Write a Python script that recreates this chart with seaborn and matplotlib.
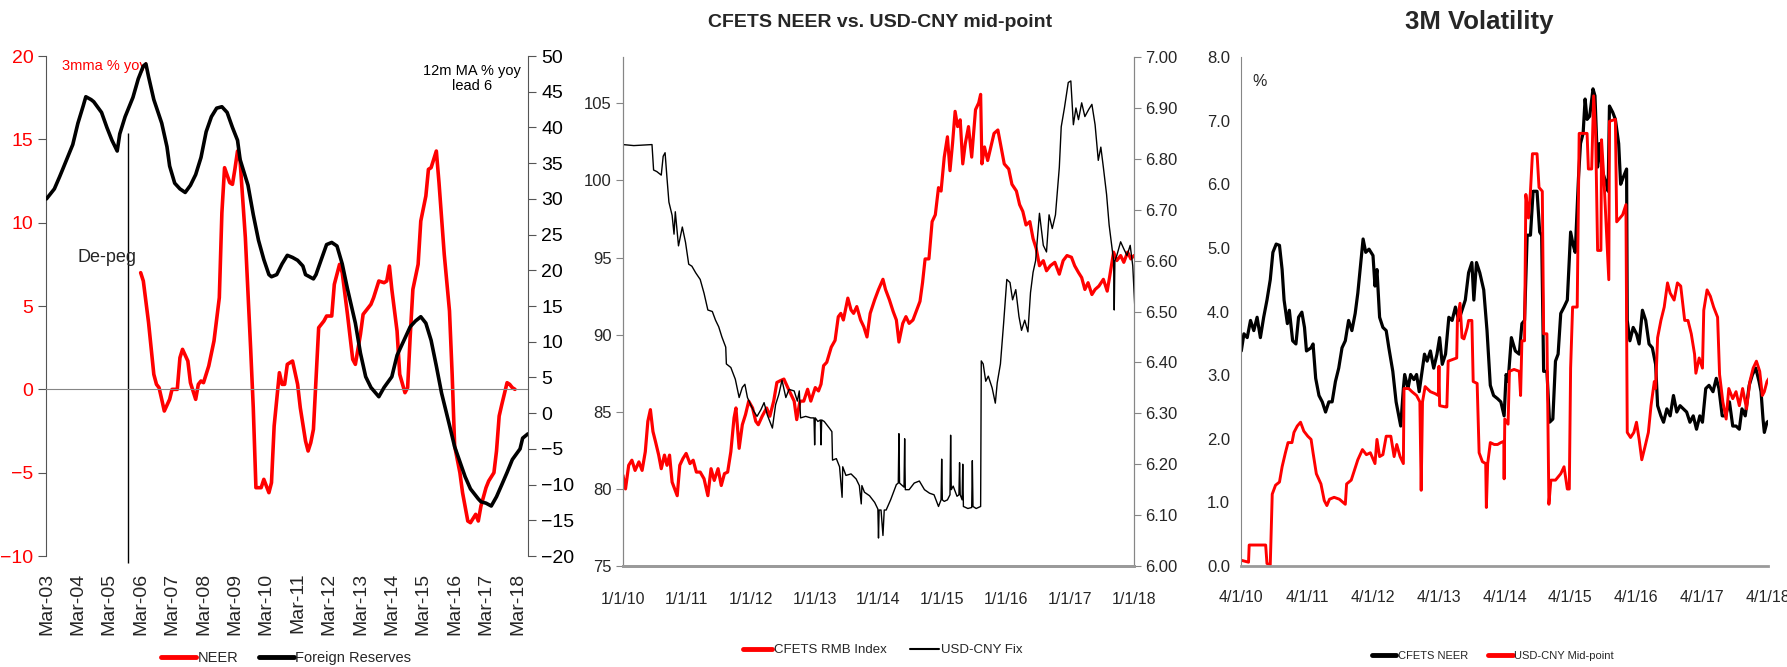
import numpy as np
import pandas as pd
import matplotlib
matplotlib.use("Agg")
import matplotlib.pyplot as plt
import matplotlib.dates as mdates
from matplotlib.lines import Line2D
from matplotlib.ticker import FixedLocator, FuncFormatter, FormatStrFormatter
from matplotlib import font_manager as fm
import seaborn as sns

sns.set_style("white")
_names = {f.name for f in fm.fontManager.ttflist}
ARIAL = "Liberation Sans" if "Liberation Sans" in _names else "DejaVu Sans"
plt.rcParams["font.family"] = [ARIAL, "DejaVu Sans"]

# ---------------- Panel 1 data: NEER (3mma % yoy) and reserves (12m MA % yoy, lead 6)
neer_dates = ["2006-03", "2006-04", "2006-06", "2006-08", "2006-09", "2006-10", "2006-11", "2006-12",
              "2007-02", "2007-03", "2007-05", "2007-06", "2007-07", "2007-09", "2007-10", "2007-12",
              "2008-01", "2008-02", "2008-03", "2008-05", "2008-07", "2008-09", "2008-10", "2008-11",
              "2009-01", "2009-02", "2009-03", "2009-04", "2009-05", "2009-07", "2009-09", "2009-10", "2009-11",
              "2010-01", "2010-02", "2010-04", "2010-05", "2010-06", "2010-08", "2010-09", "2010-10", "2010-11",
              "2011-01", "2011-03", "2011-04", "2011-06", "2011-07", "2011-08", "2011-09", "2011-10", "2011-11",
              "2012-01", "2012-02", "2012-04", "2012-05", "2012-07", "2012-08", "2012-10", "2012-12",
              "2013-01", "2013-03", "2013-04", "2013-07", "2013-08", "2013-10", "2013-12",
              "2014-01", "2014-02", "2014-03", "2014-05", "2014-06", "2014-08", "2014-09", "2014-10", "2014-11",
              "2015-01", "2015-02", "2015-04", "2015-05", "2015-06", "2015-08", "2015-09", "2015-11",
              "2016-01", "2016-02", "2016-03", "2016-05", "2016-06", "2016-08", "2016-09", "2016-11", "2016-12",
              "2017-01", "2017-03", "2017-04", "2017-06", "2017-07", "2017-08", "2017-09", "2017-11", "2017-12",
              "2018-01", "2018-02"]
neer_vals = [7.0, 6.5, 4.0, 0.9, 0.3, 0.1, -0.6, -1.3, -0.6, 0.0,
             0.0, 1.9, 2.4, 1.7, 0.4, -0.6, 0.3, 0.5, 0.4, 1.4,
             2.9, 5.5, 10.6, 13.3, 12.4, 12.3, 13.2, 14.3, 13.7, 9.1,
             2.4, -1.1, -5.9, -5.9, -5.4, -6.2, -5.6, -2.2, 1.0, 0.3,
             0.3, 1.5, 1.7, 0.3, -1.1, -3.1, -3.7, -3.2, -2.4, 0.6,
             3.7, 4.1, 4.4, 4.4, 6.3, 7.5, 7.0, 4.5, 1.8, 1.5,
             3.3, 4.5, 5.1, 5.5, 6.5, 6.4, 6.5, 7.4, 6.0, 3.5,
             0.9, -0.2, 0.1, 3.2, 6.0, 7.5, 10.1, 11.6, 13.2, 13.3,
             14.3, 12.4, 8.1, 4.7, 0.9, -3.4, -5.0, -6.2, -7.9, -8.0,
             -7.5, -7.9, -7.0, -5.9, -5.5, -5.0, -3.7, -1.6, -0.9, 0.4,
             0.3, 0.1, 0.0]

res_dates = ["2003-03", "2003-06", "2003-08", "2003-09", "2003-11", "2004-01", "2004-03", "2004-05", "2004-06",
             "2004-08", "2004-09", "2004-12", "2005-02", "2005-04", "2005-06", "2005-07", "2005-09", "2005-12",
             "2006-02", "2006-04", "2006-05", "2006-06", "2006-08", "2006-11", "2007-01", "2007-02", "2007-04",
             "2007-06", "2007-08", "2007-10", "2007-12", "2008-02", "2008-04", "2008-06", "2008-08", "2008-10",
             "2008-12", "2009-02", "2009-04", "2009-05", "2009-08", "2009-10", "2009-12", "2010-02", "2010-04",
             "2010-05", "2010-07", "2010-09", "2010-11", "2011-01", "2011-03", "2011-05", "2011-06", "2011-09",
             "2011-10", "2011-12", "2012-02", "2012-04", "2012-06", "2012-08", "2012-10", "2013-01", "2013-03",
             "2013-05", "2013-07", "2013-10", "2013-12", "2014-03", "2014-05", "2014-08", "2014-10", "2014-12",
             "2015-02", "2015-04", "2015-06", "2015-08", "2015-10", "2016-01", "2016-03", "2016-05", "2016-07",
             "2016-09", "2016-12", "2017-01", "2017-03", "2017-05", "2017-07", "2017-09", "2017-11", "2018-01",
             "2018-04", "2018-05", "2018-07"]
res_vals = [30.0, 31.4, 33.1, 34.0, 35.8, 37.6, 40.6, 43.0, 44.3, 43.9,
            43.6, 42.1, 40.0, 38.2, 36.7, 39.1, 41.5, 44.2, 46.8, 48.6,
            48.9, 47.1, 43.9, 40.6, 37.3, 34.6, 32.2, 31.4, 30.9, 31.9,
            33.4, 35.8, 39.4, 41.5, 42.7, 42.9, 42.1, 40.0, 38.2, 35.5,
            31.9, 27.8, 24.2, 21.5, 19.4, 19.1, 19.4, 20.9, 22.1, 21.8,
            21.4, 20.6, 19.4, 18.8, 19.4, 21.5, 23.6, 23.9, 23.4, 20.9,
            17.4, 12.6, 8.4, 5.1, 3.6, 2.3, 3.6, 5.1, 8.1, 10.5,
            12.1, 12.9, 13.5, 12.6, 10.2, 6.6, 2.8, -1.7, -4.7, -6.8,
            -8.9, -10.6, -12.0, -12.4, -12.6, -13.0, -11.7, -10.0, -8.3, -6.5,
            -5.0, -3.5, -2.9]

# ---------------- Panel 2 data (decimal years)
cfets_t = [2010.00, 2010.04, 2010.09, 2010.14, 2010.19, 2010.25, 2010.30, 2010.35, 2010.39, 2010.43,
           2010.47, 2010.51, 2010.56, 2010.60, 2010.65, 2010.69, 2010.73, 2010.77, 2010.81, 2010.85,
           2010.89, 2010.94, 2010.99, 2011.05, 2011.10, 2011.15, 2011.21, 2011.27, 2011.33, 2011.38,
           2011.43, 2011.49, 2011.54, 2011.59, 2011.64, 2011.69, 2011.74, 2011.77, 2011.82, 2011.87,
           2011.92, 2011.97, 2012.03, 2012.08, 2012.12, 2012.18, 2012.25, 2012.30, 2012.36, 2012.41,
           2012.46, 2012.52, 2012.58, 2012.63, 2012.68, 2012.72, 2012.77, 2012.83, 2012.89, 2012.94,
           2013.01, 2013.06, 2013.10, 2013.14, 2013.19, 2013.26, 2013.32, 2013.37, 2013.41, 2013.45,
           2013.52, 2013.57, 2013.61, 2013.66, 2013.72, 2013.77, 2013.82, 2013.87, 2013.94, 2014.00,
           2014.07, 2014.11, 2014.17, 2014.23, 2014.28, 2014.32, 2014.38, 2014.43, 2014.48, 2014.54,
           2014.60, 2014.65, 2014.69, 2014.73, 2014.79, 2014.84, 2014.89, 2014.94, 2014.98, 2015.03,
           2015.08, 2015.12, 2015.16, 2015.20, 2015.24, 2015.28, 2015.32, 2015.36, 2015.41, 2015.46,
           2015.52, 2015.57, 2015.60, 2015.62, 2015.66, 2015.71, 2015.76, 2015.81, 2015.87, 2015.92,
           2015.97, 2016.04, 2016.09, 2016.16, 2016.21, 2016.26, 2016.31, 2016.37, 2016.42, 2016.47,
           2016.52, 2016.58, 2016.63, 2016.69, 2016.76, 2016.83, 2016.89, 2016.95, 2017.02, 2017.07,
           2017.13, 2017.18, 2017.23, 2017.28, 2017.34, 2017.39, 2017.45, 2017.52, 2017.58, 2017.62,
           2017.68, 2017.73, 2017.79, 2017.84, 2017.90, 2017.95, 2018.00]
cfets_v = [80.88, 80.0, 81.53, 81.86, 81.20, 81.75, 81.2, 82.41, 84.38, 85.14,
           83.72, 83.06, 82.19, 81.31, 82.19, 81.53, 82.19, 80.44, 80.0, 79.56,
           81.53, 81.97, 82.30, 81.64, 81.86, 81.09, 81.09, 80.66, 79.56, 81.31,
           80.55, 81.31, 80.22, 80.99, 81.09, 82.41, 84.60, 85.25, 82.63, 84.16,
           84.82, 85.69, 85.25, 84.38, 84.16, 84.71, 85.25, 84.71, 85.69, 86.90,
           87.01, 87.12, 86.57, 86.13, 85.69, 84.49, 85.69, 85.69, 86.46, 85.69,
           86.57, 86.35, 86.79, 87.99, 88.21, 89.19, 89.63, 91.16, 91.38, 90.95,
           92.37, 91.60, 91.38, 91.82, 90.95, 90.51, 89.85, 91.38, 92.26, 92.92,
           93.59, 92.93, 92.27, 91.50, 90.95, 89.52, 90.73, 91.17, 90.73, 90.95,
           91.61, 92.16, 93.37, 94.91, 94.91, 97.33, 97.77, 99.53, 99.31, 101.51,
           102.83, 100.63, 102.39, 104.48, 103.49, 103.93, 101.07, 102.39, 103.49, 101.51,
           104.59, 105.03, 105.58, 101.07, 102.17, 101.29, 102.17, 103.05, 103.27, 102.17,
           101.07, 100.74, 99.75, 99.31, 98.43, 97.99, 97.11, 97.33, 96.23, 95.57,
           94.47, 94.80, 94.14, 94.47, 94.69, 93.92, 94.80, 95.13, 95.02, 94.47,
           94.03, 93.70, 92.93, 93.37, 92.60, 92.93, 93.15, 93.59, 92.82, 93.81,
           95.35, 94.80, 95.13, 94.69, 95.35, 94.91, 95.13]

fix_t = [2010.00, 2010.17, 2010.455, 2010.48, 2010.53, 2010.60, 2010.63, 2010.66, 2010.69, 2010.72,
         2010.77, 2010.80, 2010.82, 2010.87, 2010.93, 2010.98, 2011.03, 2011.08, 2011.14, 2011.21,
         2011.27, 2011.33, 2011.40, 2011.45, 2011.50, 2011.55, 2011.61, 2011.62, 2011.69, 2011.76,
         2011.82, 2011.87, 2011.91, 2011.95, 2012.00, 2012.05, 2012.10, 2012.16, 2012.21, 2012.26,
         2012.34, 2012.39, 2012.44, 2012.49, 2012.55, 2012.60, 2012.68, 2012.73, 2012.76, 2012.78,
         2012.86, 2012.94, 2012.99, 2013.00, 2013.01, 2013.05, 2013.09, 2013.10, 2013.11, 2013.15,
         2013.23, 2013.27, 2013.28, 2013.34, 2013.39, 2013.43, 2013.44, 2013.49, 2013.57, 2013.65,
         2013.70, 2013.73, 2013.74, 2013.78, 2013.86, 2013.94, 2013.99, 2014.00, 2014.01, 2014.04,
         2014.07, 2014.09, 2014.12, 2014.19, 2014.25, 2014.28, 2014.31, 2014.32, 2014.33, 2014.40,
         2014.41, 2014.42, 2014.48, 2014.56, 2014.64, 2014.72, 2014.80, 2014.87, 2014.94, 2014.98,
         2014.99, 2015.00, 2015.03, 2015.08, 2015.12, 2015.13, 2015.14, 2015.17, 2015.23, 2015.26,
         2015.27, 2015.28, 2015.31, 2015.32, 2015.33, 2015.40, 2015.46, 2015.47, 2015.48, 2015.53,
         2015.60, 2015.61, 2015.64, 2015.68, 2015.72, 2015.78, 2015.83, 2015.86, 2015.91, 2015.96,
         2016.01, 2016.06, 2016.10, 2016.15, 2016.20, 2016.24, 2016.29, 2016.34, 2016.38, 2016.42,
         2016.46, 2016.52, 2016.58, 2016.63, 2016.67, 2016.72, 2016.77, 2016.83, 2016.86, 2016.91,
         2016.97, 2017.01, 2017.05, 2017.09, 2017.13, 2017.18, 2017.23, 2017.29, 2017.34, 2017.39,
         2017.44, 2017.48, 2017.52, 2017.57, 2017.61, 2017.65, 2017.68, 2017.69, 2017.70, 2017.73,
         2017.79, 2017.84, 2017.89, 2017.94, 2017.98, 2018.02]
fix_v = [6.828, 6.826, 6.828, 6.778, 6.775, 6.768, 6.805, 6.812, 6.762, 6.715,
         6.689, 6.652, 6.696, 6.629, 6.666, 6.636, 6.593, 6.589, 6.576, 6.563,
         6.536, 6.503, 6.500, 6.483, 6.470, 6.450, 6.430, 6.397, 6.390, 6.367,
         6.331, 6.351, 6.357, 6.331, 6.317, 6.304, 6.294, 6.307, 6.321, 6.297,
         6.271, 6.317, 6.337, 6.365, 6.331, 6.347, 6.344, 6.324, 6.344, 6.291,
         6.294, 6.291, 6.291, 6.238, 6.291, 6.284, 6.287, 6.238, 6.287, 6.284,
         6.271, 6.264, 6.208, 6.211, 6.195, 6.135, 6.195, 6.178, 6.181, 6.171,
         6.158, 6.122, 6.158, 6.145, 6.138, 6.125, 6.112, 6.055, 6.110, 6.110,
         6.060, 6.110, 6.110, 6.130, 6.150, 6.160, 6.163, 6.260, 6.163, 6.155,
         6.250, 6.150, 6.150, 6.163, 6.167, 6.150, 6.143, 6.140, 6.117, 6.130,
         6.210, 6.130, 6.127, 6.130, 6.140, 6.257, 6.150, 6.157, 6.137, 6.140,
         6.203, 6.140, 6.130, 6.200, 6.117, 6.113, 6.115, 6.207, 6.117, 6.113,
         6.117, 6.403, 6.397, 6.363, 6.373, 6.350, 6.320, 6.360, 6.397, 6.477,
         6.563, 6.557, 6.523, 6.543, 6.490, 6.463, 6.483, 6.460, 6.537, 6.577,
         6.600, 6.693, 6.630, 6.617, 6.690, 6.663, 6.690, 6.783, 6.863, 6.900,
         6.950, 6.953, 6.867, 6.900, 6.877, 6.910, 6.883, 6.897, 6.907, 6.867,
         6.797, 6.823, 6.783, 6.730, 6.670, 6.630, 6.600, 6.503, 6.600, 6.610,
         6.637, 6.623, 6.610, 6.630, 6.590, 6.490]

# ---------------- Panel 3 data (decimal years)
volneer_t = [2010.25, 2010.29, 2010.34, 2010.39, 2010.44, 2010.49, 2010.54, 2010.59, 2010.64, 2010.69,
             2010.73, 2010.78, 2010.83, 2010.87, 2010.90, 2010.95, 2010.98, 2011.03, 2011.08, 2011.12,
             2011.17, 2011.21, 2011.24, 2011.31, 2011.34, 2011.38, 2011.43, 2011.48, 2011.53, 2011.58,
             2011.63, 2011.68, 2011.73, 2011.78, 2011.83, 2011.88, 2011.93, 2011.98, 2012.02, 2012.06,
             2012.10, 2012.14, 2012.19, 2012.25, 2012.28, 2012.31, 2012.35, 2012.40, 2012.45, 2012.49,
             2012.55, 2012.60, 2012.64, 2012.67, 2012.71, 2012.73, 2012.78, 2012.82, 2012.87, 2012.91,
             2012.95, 2013.03, 2013.07, 2013.12, 2013.17, 2013.22, 2013.26, 2013.30, 2013.35, 2013.40,
             2013.45, 2013.50, 2013.55, 2013.60, 2013.65, 2013.70, 2013.75, 2013.78, 2013.82, 2013.87,
             2013.93, 2013.98, 2014.03, 2014.08, 2014.14, 2014.19, 2014.24,
             2014.27, 2014.30, 2014.35, 2014.41, 2014.47, 2014.51, 2014.55, 2014.59, 2014.64, 2014.68,
             2014.74, 2014.78, 2014.81, 2014.84, 2014.89, 2014.93, 2014.98, 2015.02, 2015.06, 2015.10,
             2015.15, 2015.20, 2015.25, 2015.29, 2015.32, 2015.37, 2015.40, 2015.44, 2015.47, 2015.50,
             2015.54, 2015.59, 2015.62, 2015.66, 2015.69, 2015.73, 2015.78, 2015.82, 2015.84, 2015.89,
             2015.93, 2015.98, 2016.01, 2016.05, 2016.10, 2016.11, 2016.15, 2016.20, 2016.25, 2016.29,
             2016.34, 2016.39, 2016.44, 2016.49, 2016.54, 2016.57, 2016.62, 2016.66, 2016.71, 2016.76,
             2016.81, 2016.86, 2016.91, 2016.96, 2017.01, 2017.06, 2017.11, 2017.16, 2017.21, 2017.25,
             2017.30, 2017.35, 2017.41, 2017.46, 2017.50, 2017.55, 2017.60, 2017.66, 2017.71, 2017.76,
             2017.81, 2017.85, 2017.90, 2017.96, 2018.01, 2018.06, 2018.11, 2018.14, 2018.17, 2018.19,
             2018.23, 2018.26]
volneer_v = [3.38, 3.65, 3.59, 3.86, 3.70, 3.91, 3.59, 3.91, 4.18, 4.50,
             4.93, 5.06, 5.04, 4.66, 4.18, 3.81, 4.02, 3.54, 3.49, 3.91,
             3.99, 3.75, 3.38, 3.43, 3.49, 2.95, 2.68, 2.58, 2.42, 2.58,
             2.58, 2.90, 3.11, 3.43, 3.54, 3.86, 3.70, 3.97, 4.29, 4.72,
             5.14, 4.93, 4.98, 4.88, 4.40, 4.66, 3.91, 3.75, 3.70, 3.43,
             3.06, 2.58, 2.36, 2.20, 2.79, 3.01, 2.79, 3.01, 2.93, 3.01,
             2.74, 3.33, 3.22, 3.38, 3.11, 3.33, 3.59, 3.17, 3.33, 3.91,
             3.86, 4.07, 3.86, 4.02, 4.18, 4.61, 4.77, 4.18, 4.77, 4.61,
             4.34, 3.70, 2.84, 2.68, 2.63, 2.58, 2.36,
             3.01, 2.90, 3.59, 3.38, 3.33, 3.81, 3.86, 5.20, 5.20, 5.89,
             5.89, 5.25, 5.20, 3.06, 3.06, 2.26, 2.31, 3.22, 3.33, 3.97,
             4.07, 4.18, 5.25, 5.04, 4.93, 6.11, 6.64, 6.80, 7.34, 7.02,
             7.07, 7.50, 7.39, 6.27, 6.64, 6.21, 6.05, 5.89, 7.23, 7.13,
             7.02, 6.64, 6.00, 6.11, 6.24, 3.86, 3.54, 3.75, 3.65, 3.49,
             4.02, 3.86, 3.49, 3.43, 3.17, 2.52, 2.36, 2.26, 2.47, 2.36,
             2.68, 2.42, 2.52, 2.47, 2.42, 2.26, 2.36, 2.15, 2.36, 2.26,
             2.79, 2.84, 2.74, 2.95, 2.79, 2.36, 2.36, 2.58, 2.20, 2.20,
             2.15, 2.47, 2.36, 2.84, 3.01, 3.11, 2.90, 2.74, 2.31, 2.10,
             2.26, 2.28]

volmid_t = [2010.25, 2010.36, 2010.37, 2010.62, 2010.64, 2010.69, 2010.72, 2010.77, 2010.83, 2010.87,
            2010.92, 2010.96, 2011.02, 2011.05, 2011.10, 2011.15, 2011.20, 2011.26, 2011.31, 2011.34,
            2011.39, 2011.46, 2011.51, 2011.55, 2011.59, 2011.66, 2011.74, 2011.83, 2011.85, 2011.92,
            2011.97, 2012.02, 2012.09, 2012.15, 2012.21, 2012.28, 2012.31, 2012.35, 2012.40, 2012.45,
            2012.52, 2012.57, 2012.61, 2012.66, 2012.71, 2012.72, 2012.79, 2012.84, 2012.91, 2012.96,
            2012.98, 2013.00, 2013.04, 2013.12, 2013.19, 2013.24, 2013.25, 2013.26, 2013.35, 2013.37,
            2013.39, 2013.47, 2013.52, 2013.53, 2013.57, 2013.60, 2013.63, 2013.68, 2013.70, 2013.75,
            2013.77, 2013.83, 2013.86, 2013.91, 2013.96, 2013.97, 2013.99, 2014.03, 2014.09, 2014.14,
            2014.19, 2014.235, 2014.24, 2014.25,
            2014.30, 2014.32, 2014.39, 2014.47, 2014.49, 2014.51, 2014.55, 2014.57, 2014.61, 2014.64,
            2014.67, 2014.74, 2014.77, 2014.82, 2014.84, 2014.89, 2014.92, 2014.95, 2015.02, 2015.10,
            2015.15, 2015.20, 2015.23, 2015.25, 2015.28, 2015.35, 2015.38, 2015.50, 2015.52, 2015.57,
            2015.60, 2015.63, 2015.66, 2015.71, 2015.72, 2015.76, 2015.83, 2015.84, 2015.93, 2015.95,
            2016.04, 2016.09, 2016.11, 2016.16, 2016.21, 2016.25, 2016.29, 2016.33, 2016.38, 2016.43,
            2016.47, 2016.52, 2016.54, 2016.57, 2016.62, 2016.67, 2016.72, 2016.76, 2016.82, 2016.87,
            2016.92, 2016.98, 2017.03, 2017.08, 2017.13, 2017.15, 2017.20, 2017.25, 2017.27, 2017.32,
            2017.37, 2017.42, 2017.48, 2017.51, 2017.56, 2017.61, 2017.65, 2017.71, 2017.76, 2017.81,
            2017.86, 2017.92, 2017.97, 2018.02, 2018.07, 2018.12, 2018.16, 2018.19, 2018.23, 2018.26]
volmid_v = [0.09, 0.06, 0.33, 0.33, 0.04, 0.02, 1.13, 1.27, 1.32, 1.56,
            1.78, 1.94, 1.94, 2.10, 2.20, 2.26, 2.12, 2.04, 1.99, 1.78,
            1.45, 1.29, 1.03, 0.95, 1.05, 1.08, 1.05, 0.97, 1.29, 1.35,
            1.51, 1.67, 1.83, 1.75, 1.78, 1.61, 1.99, 1.72, 1.75, 2.04,
            2.04, 1.72, 1.91, 1.72, 1.61, 2.79, 2.79, 2.74, 2.68, 2.58,
            1.19, 2.58, 2.82, 2.74, 2.71, 2.68, 3.14, 2.52, 2.50, 2.50,
            3.22, 3.25, 3.27, 3.86, 4.13, 3.59, 3.57, 3.75, 3.86, 3.86,
            2.90, 2.87, 1.78, 1.64, 1.61, 0.92, 1.61, 1.94, 1.91, 1.91,
            1.94, 1.96, 1.37, 2.31,
            2.23, 3.06, 3.09, 3.06, 2.68, 3.54, 3.54, 5.84, 5.47, 5.89,
            6.48, 6.48, 5.95, 5.89, 3.65, 3.65, 0.97, 1.35, 1.35, 1.45,
            1.56, 1.21, 1.21, 3.11, 4.07, 4.07, 6.80, 6.80, 6.24, 6.24,
            7.39, 6.80, 4.96, 4.96, 6.70, 6.00, 4.50, 6.99, 7.02, 5.41,
            5.52, 5.68, 2.10, 2.02, 2.10, 2.26, 1.99, 1.67, 1.88, 2.10,
            2.52, 2.90, 2.79, 3.59, 3.86, 4.07, 4.45, 4.29, 4.18, 4.45,
            4.40, 3.86, 3.86, 3.65, 3.33, 3.03, 3.27, 3.11, 4.02, 4.34,
            4.24, 4.07, 3.91, 3.01, 2.58, 2.31, 2.79, 2.63, 2.74, 2.52,
            2.79, 2.47, 2.90, 3.11, 3.22, 3.06, 2.68, 2.74, 2.90, 2.95]

left_ticks_1 = [-10, -5, 0, 5, 10, 15, 20]
right_ticks_1 = list(range(-20, 55, 5))
left_ticks_2 = [75, 80, 85, 90, 95, 100, 105]
right_ticks_2 = [6.0, 6.1, 6.2, 6.3, 6.4, 6.5, 6.6, 6.7, 6.8, 6.9, 7.0]
ticks_3 = [0, 1, 2, 3, 4, 5, 6, 7, 8]


def to_dates(years):
    out = []
    for t in years:
        y = int(np.floor(t))
        s, e = pd.Timestamp(y, 1, 1), pd.Timestamp(y + 1, 1, 1)
        out.append(s + (e - s) * (t - y))
    return pd.to_datetime(out)


GRAY = "#868686"
RED = "#FF0000"


def mdy(x, pos=None):
    d = mdates.num2date(x)
    return f"{d.month}/{d.day}/{d:%y}"


fig = plt.figure(figsize=(17.87, 6.67), dpi=100)

# ================= Panel 1
ax1 = fig.add_axes([0.026, 0.1664, 0.2694, 0.7496])
ax1r = ax1.twinx()
sns.lineplot(x=pd.to_datetime(neer_dates), y=neer_vals, ax=ax1, color=RED, linewidth=2.6,
             estimator=None, sort=False, legend=False)
sns.lineplot(x=pd.to_datetime(res_dates), y=res_vals, ax=ax1r, color="black", linewidth=2.6,
             estimator=None, sort=False, legend=False)
ax1.set_xlim(pd.Timestamp("2003-03-01"), pd.Timestamp("2018-07-01"))
ax1.set_ylim(-10, 20)
ax1r.set_ylim(-20, 50)
ax1.yaxis.set_major_locator(FixedLocator(left_ticks_1))
ax1r.yaxis.set_major_locator(FixedLocator(right_ticks_1))
ax1.set_xlabel("")
ax1.set_ylabel("")
ax1r.set_ylabel("")
for sp in ["top", "right"]:
    ax1.spines[sp].set_visible(False)
for sp in ["top", "bottom", "left"]:
    ax1r.spines[sp].set_visible(False)
ax1.spines["left"].set_color("#555555")
ax1r.spines["right"].set_color("#555555")
ax1.spines["bottom"].set_position(("data", 0))
ax1.spines["bottom"].set_color(GRAY)
ax1.xaxis.set_major_locator(mdates.YearLocator(1, month=3, day=1))
ax1.tick_params(axis="x", direction="out", length=5, color=GRAY, labelbottom=False)
ax1.tick_params(axis="y", direction="out", length=6, color="#555555", labelcolor=RED, labelsize=14)
ax1r.tick_params(axis="y", direction="out", length=6, color="#555555", labelcolor="black", labelsize=14)
sec = ax1.secondary_xaxis(0.0)
sec.xaxis.set_major_locator(mdates.YearLocator(1, month=3, day=1))
sec.xaxis.set_major_formatter(FuncFormatter(lambda x, p: mdates.num2date(x).strftime("%b-%y")))
sec.tick_params(axis="x", length=0, labelsize=14, rotation=90, pad=12)
sec.spines["bottom"].set_visible(False)

ax1.vlines(pd.Timestamp("2005-10-01"), -10.4, 15.4, color="black", linewidth=1.0, clip_on=False)
ax1.text(pd.Timestamp("2004-03-01"), 7.9, "De-peg", fontsize=13, va="center", ha="left")
ax1.text(pd.Timestamp("2003-09-01"), 19.4, "3mma % yoy", fontsize=10.5, color=RED, va="center")
ax1.text(pd.Timestamp("2016-09-15"), 18.65, "12m MA % yoy\nlead 6", fontsize=10.5, color="black",
         va="center", ha="center", linespacing=1.1)

fig.legend(handles=[Line2D([], [], color=RED, lw=3.5), Line2D([], [], color="black", lw=3.5)],
           labels=["NEER", "Foreign Reserves"], loc="center", bbox_to_anchor=(0.160, 0.0135),
           ncol=2, frameon=False, handlelength=2.4, handletextpad=0.1, columnspacing=1.4,
           fontsize=10.5, borderaxespad=0, borderpad=0)

# ================= Panel 2
ax2 = fig.add_axes([0.3486, 0.1514, 0.286, 0.7631])
ax2r = ax2.twinx()
sns.lineplot(x=to_dates(cfets_t), y=cfets_v, ax=ax2, color=RED, linewidth=2.3,
             estimator=None, sort=False, legend=False)
sns.lineplot(x=to_dates(fix_t), y=fix_v, ax=ax2r, color="black", linewidth=1.0,
             estimator=None, sort=False, legend=False)
ax2.set_xlim(pd.Timestamp("2010-01-01"), pd.Timestamp("2018-01-01"))
ax2.set_ylim(75, 108)
ax2r.set_ylim(6.0, 7.0)
ax2.yaxis.set_major_locator(FixedLocator(left_ticks_2))
ax2r.yaxis.set_major_locator(FixedLocator(right_ticks_2))
ax2r.yaxis.set_major_formatter(FormatStrFormatter("%.2f"))
ax2.xaxis.set_major_locator(mdates.YearLocator(1, month=1, day=1))
ax2.xaxis.set_major_formatter(FuncFormatter(mdy))
for a in (ax2, ax2r):
    a.set_xlabel("")
    a.set_ylabel("")
    a.spines["top"].set_visible(False)
    for sp in ["left", "right"]:
        a.spines[sp].set_color(GRAY)
    a.spines["bottom"].set_color("#9a9a9a")
    a.spines["bottom"].set_linewidth(2.0)
ax2.tick_params(axis="x", direction="out", length=5, color=GRAY, labelsize=11.5, pad=14)
ax2.tick_params(axis="y", direction="out", length=5, color=GRAY, labelsize=12, pad=3)
ax2r.tick_params(axis="y", direction="out", length=5, color=GRAY, labelsize=12, pad=3)
fig.text(0.4925, 0.967, "CFETS NEER vs. USD-CNY mid-point", ha="center", va="center",
         fontsize=14, fontweight="bold")
fig.legend(handles=[Line2D([], [], color=RED, lw=3.5), Line2D([], [], color="black", lw=1.5)],
           labels=["CFETS RMB Index", "USD-CNY Fix"], loc="center", bbox_to_anchor=(0.494, 0.025),
           ncol=2, frameon=False, handlelength=2.2, handletextpad=0.15, columnspacing=1.8,
           fontsize=9.5, borderaxespad=0, borderpad=0)

# ================= Panel 3
ax3 = fig.add_axes([0.6945, 0.1514, 0.2949, 0.7631])
sns.lineplot(x=to_dates(volneer_t), y=volneer_v, ax=ax3, color="black", linewidth=2.3,
             estimator=None, sort=False, legend=False)
sns.lineplot(x=to_dates(volmid_t), y=volmid_v, ax=ax3, color=RED, linewidth=2.1,
             estimator=None, sort=False, legend=False)
ax3.set_xlim(pd.Timestamp("2010-04-01"), pd.Timestamp("2018-04-01"))
ax3.set_ylim(0, 8)
ax3.yaxis.set_major_locator(FixedLocator(ticks_3))
ax3.yaxis.set_major_formatter(FormatStrFormatter("%.1f"))
ax3.xaxis.set_major_locator(mdates.YearLocator(1, month=4, day=1))
ax3.xaxis.set_major_formatter(FuncFormatter(mdy))
ax3.set_xlabel("")
ax3.set_ylabel("")
for sp in ["top", "right"]:
    ax3.spines[sp].set_visible(False)
ax3.spines["left"].set_color(GRAY)
ax3.spines["bottom"].set_color("#9a9a9a")
ax3.spines["bottom"].set_linewidth(2.0)
ax3.tick_params(axis="x", direction="out", length=5, color=GRAY, labelsize=11.5, pad=12)
ax3.tick_params(axis="y", direction="out", length=5, color=GRAY, labelsize=12, pad=3)
ax3.text(pd.Timestamp("2010-06-01"), 7.62, "%", fontsize=11.5, va="center", ha="left")
fig.text(0.828, 0.967, "3M Volatility", ha="center", va="center",
         fontsize=18.5, fontweight="bold")
fig.legend(handles=[Line2D([], [], color="black", lw=3.5), Line2D([], [], color=RED, lw=3.5)],
           labels=["CFETS NEER", "USD-CNY Mid-point"], loc="center", bbox_to_anchor=(0.8355, 0.017),
           ncol=2, frameon=False, handlelength=2.2, handletextpad=0.15, columnspacing=1.8,
           fontsize=8, borderaxespad=0, borderpad=0)

fig.savefig("out.png", dpi=100)
